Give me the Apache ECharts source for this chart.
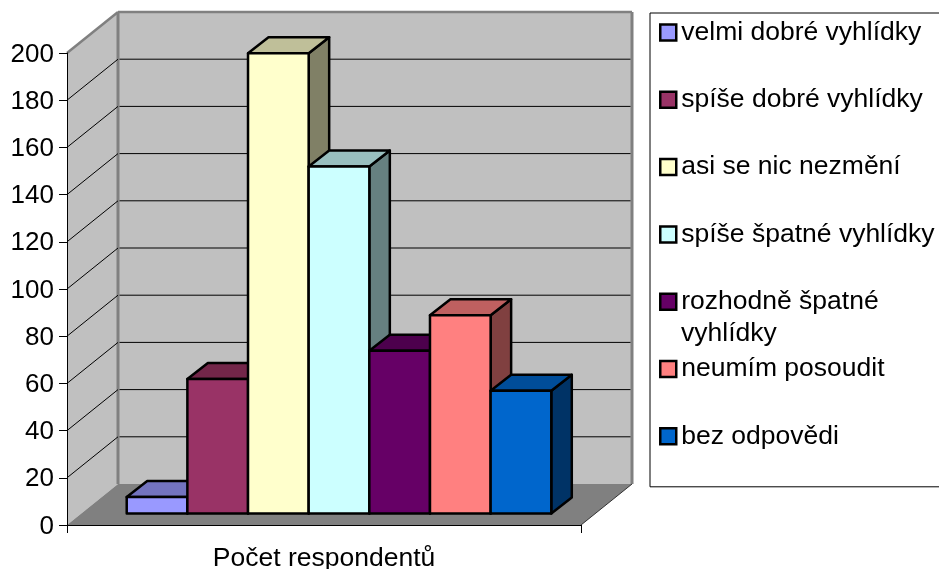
<!DOCTYPE html>
<html><head><meta charset="utf-8">
<style>html,body{margin:0;padding:0;background:#fff}#c{width:939px;height:569px}</style>
<script src="https://cdn.jsdelivr.net/npm/echarts@6/dist/echarts.min.js"></script>
</head><body><div id="c"></div>
<script>
const categories = ['Počet respondentů'];
const seriesNames = ['velmi dobré vyhlídky','spíše dobré vyhlídky','asi se nic nezmění','spíše špatné vyhlídky','rozhodně špatné\nvyhlídky','neumím posoudit','bez odpovědi'];
const values = [7, 57, 195, 147, 69, 84, 52];
const colors = ['#9999ff','#993366','#ffffcc','#ccffff','#660066','#ff8080','#0066cc'];
const topColors = ['#7373bf','#732649','#bfbf99','#99bfbf','#4d004d','#bf6060','#004d99'];
const sideColors = ['#4d4d80','#4d1a33','#808066','#668080','#330033','#804040','#003366'];
const yTicks = [0,20,40,60,80,100,120,140,160,180,200];

const WALL_DX = 51, WALL_DY = 41, BAR_DX = 20.5, BAR_DY = 16;
const BAR_SHIFT_X = 15, BAR_SHIFT_Y = 11.5, BAR_RATIO = 0.118;
const stroke = {stroke:'#000', lineWidth:2.5, lineJoin:'round'};

function poly(points, style){ return {type:'polygon', shape:{points}, style}; }
function line(x1,y1,x2,y2,c,w){ return {type:'line', shape:{x1,y1,x2,y2}, style:{stroke:c,lineWidth:w}}; }

function renderWalls(params, api){
  const g = params.coordSys, L=g.x, R=g.x+g.width, T=g.y, B=g.y+g.height, dx=WALL_DX, dy=WALL_DY;
  const wall='#c0c0c0', floor='#808080', edge='#808080';
  return {type:'group', silent:true, children:[
    poly([[L,T],[L+dx,T-dy],[L+dx,B-dy],[L,B]],{fill:wall}),
    poly([[L+dx,T-dy],[R+dx,T-dy],[R+dx,B-dy],[L+dx,B-dy]],{fill:wall}),
    poly([[L,B],[L+dx,B-dy],[R+dx,B-dy],[R,B]],{fill:floor}),
    line(L,T,L+dx,T-dy,edge,2.5),
    line(L+dx,T-dy,R+dx,T-dy,edge,2.5),
    line(L+dx,T-dy,L+dx,B-dy,edge,3),
    line(R+dx,T-dy,R+dx,B-dy,edge,3),
    line(R,B,R+dx,B-dy,'#333',1)
  ]};
}
function renderGrid(params, api){
  const g = params.coordSys, L=g.x, R=g.x+g.width;
  const v = api.value(1);
  const y = api.coord([0, v])[1];
  if (v === yTicks[0] || v === yTicks[yTicks.length-1]) return {type:'group', children:[]};
  return {type:'group', silent:true, children:[
    line(L,y,L+WALL_DX,y-WALL_DY,'#000',1),
    line(L+WALL_DX+1.5,y-WALL_DY,R+WALL_DX-1.5,y-WALL_DY,'#000',1)
  ]};
}
function renderBar(index){
  return function(params, api){
    const p = api.coord([api.value(0), api.value(1)]);
    const base = api.coord([api.value(0), 0])[1] - BAR_SHIFT_Y;
    const top = p[1] - BAR_SHIFT_Y;
    const w = api.size([1,0])[0] * BAR_RATIO;
    const x0 = p[0] + BAR_SHIFT_X + (index - 3.5) * w, x1 = x0 + w;
    return {type:'group', children:[
      poly([[x1,top],[x1+BAR_DX,top-BAR_DY],[x1+BAR_DX,base-BAR_DY],[x1,base]],{fill:sideColors[index],...stroke}),
      poly([[x0,top],[x0+BAR_DX,top-BAR_DY],[x1+BAR_DX,top-BAR_DY],[x1,top]],{fill:topColors[index],...stroke}),
      poly([[x0,top],[x1,top],[x1,base],[x0,base]],{fill:colors[index],...stroke})
    ]};
  };
}

const series = [
  {type:'custom', name:'_walls', renderItem:renderWalls, data:[[0,0]], encode:{x:0,y:1}, silent:true, z:1},
  {type:'custom', name:'_grid', renderItem:renderGrid, data:yTicks.map(v=>[0,v]), encode:{x:0,y:1}, silent:true, z:1}
].concat(seriesNames.map((name,i)=>({
  type:'custom', name, renderItem:renderBar(i), data:[[0,values[i]]], encode:{x:0,y:1},
  itemStyle:{color:colors[i]}, z:2
})));

const font = '"Liberation Sans", Arial, sans-serif';
const wrapped = seriesNames.findIndex(n => n.includes('\n'));
const chart = echarts.init(document.getElementById('c'), null, {renderer:'canvas'});
chart.setOption({
  animation:false,
  backgroundColor:'#fff',
  grid:{left:67, top:53, width:514, height:472, outerBoundsMode:'none'},
  xAxis:{type:'category', data:categories, z:3,
    axisLine:{show:true,lineStyle:{color:'#000',width:1}},
    axisTick:{show:true,length:8,lineStyle:{color:'#000',width:1}},
    axisLabel:{color:'#000',fontFamily:font,fontSize:26.5,margin:20},
    splitLine:{show:false}},
  yAxis:{type:'value', min:0, max:200, interval:20, z:3,
    axisLine:{show:true,lineStyle:{color:'#000',width:1}},
    axisTick:{show:true,length:8,lineStyle:{color:'#000',width:1}},
    axisLabel:{color:'#000',fontFamily:font,fontSize:26,margin:13,verticalAlign:'top',lineHeight:3},
    splitLine:{show:false}},
  legend:{
    data:seriesNames, orient:'vertical', left:650, top:13, icon:'rect',
    itemWidth:16, itemHeight:16, itemGap:32.3, selectedMode:false,
    padding:[2,40,33,9], borderColor:'#000', borderWidth:1, backgroundColor:'#fff',
    itemStyle:{borderColor:'#000',borderWidth:2.5},
    formatter:n => n.split('\n')[0],
    textStyle:{color:'#000',fontFamily:font,fontSize:26.5,lineHeight:32,padding:[3,0,0,0]}
  },
  graphic:[{type:'text', left:681, top:320, z:10, silent:true,
    style:{text:seriesNames[wrapped].split('\n')[1], fill:'#000', font:'26.5px '+font}}],
  series
});
</script></body></html>
